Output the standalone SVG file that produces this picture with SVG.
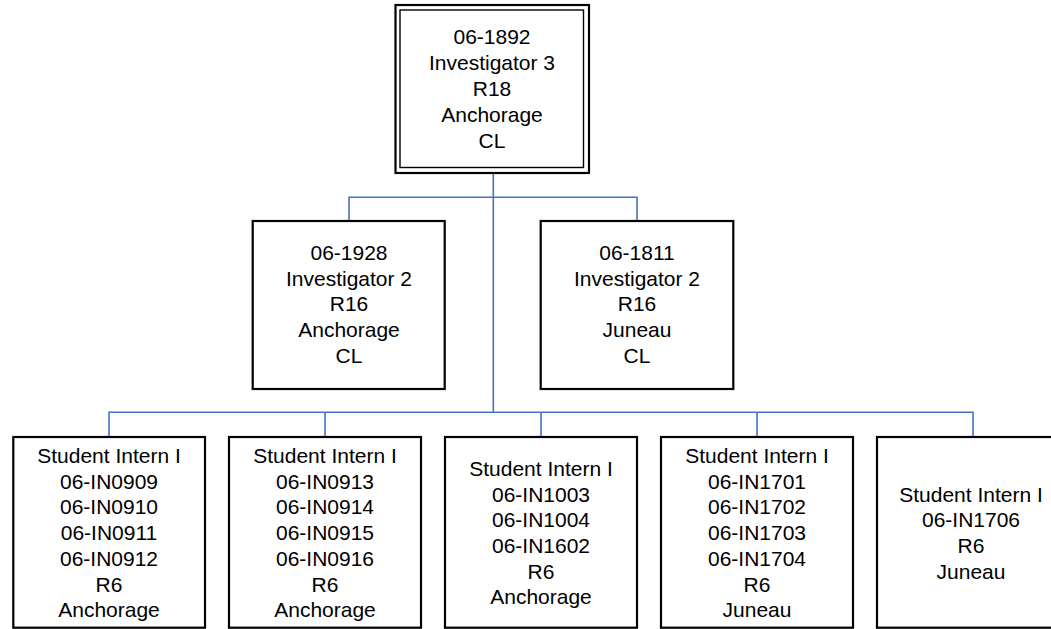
<svg xmlns="http://www.w3.org/2000/svg" width="1051" height="629" viewBox="0 0 1051 629">
<style>
.box{fill:#fff;stroke:#000;stroke-width:2.2}
.inner{fill:none;stroke:#000;stroke-width:1.4}
.lbl{font-family:"Liberation Sans",Arial,sans-serif;font-size:21px;fill:#000;text-anchor:middle}
.conn{fill:none;stroke:#4472C4;stroke-width:1.6}
</style>
<rect width="1051" height="629" fill="#fff"/>
<g id="connectors">
<path class="conn" d="M493.3 173V412.3"/>
<path class="conn" d="M349 221V197.3H637V221"/>
<path class="conn" d="M109 437V412.3H973V437"/>
<path class="conn" d="M325 412.3V437M541 412.3V437M757 412.3V437"/>
</g>
<g id="n1892">
<rect class="box" x="395.5" y="5" width="193.5" height="168" stroke-width="2.6"/>
<rect class="inner" x="400" y="10" width="183.5" height="157.5"/>
<text class="lbl" x="492" y="44"><tspan x="492">06-1892</tspan><tspan x="492" y="70">Investigator 3</tspan><tspan x="492" y="96">R18</tspan><tspan x="492" y="122">Anchorage</tspan><tspan x="492" y="148">CL</tspan></text>
</g>
<g id="n1928">
<rect class="box" x="252.7" y="221" width="192" height="168"/>
<text class="lbl" x="349" y="260"><tspan x="349">06-1928</tspan><tspan x="349" y="285.7">Investigator 2</tspan><tspan x="349" y="311.4">R16</tspan><tspan x="349" y="337.1">Anchorage</tspan><tspan x="349" y="362.8">CL</tspan></text>
</g>
<g id="n1811">
<rect class="box" x="540.7" y="221" width="192.6" height="168"/>
<text class="lbl" x="637" y="260"><tspan x="637">06-1811</tspan><tspan x="637" y="285.7">Investigator 2</tspan><tspan x="637" y="311.4">R16</tspan><tspan x="637" y="337.1">Juneau</tspan><tspan x="637" y="362.8">CL</tspan></text>
</g>
<g id="s1">
<rect class="box" x="13.3" y="437" width="191.7" height="190.7"/>
<text class="lbl" x="109" y="463"><tspan x="109">Student Intern I</tspan><tspan x="109" y="488.7">06-IN0909</tspan><tspan x="109" y="514.4">06-IN0910</tspan><tspan x="109" y="540.1">06-IN0911</tspan><tspan x="109" y="565.8">06-IN0912</tspan><tspan x="109" y="591.5">R6</tspan><tspan x="109" y="617.2">Anchorage</tspan></text>
</g>
<g id="s2">
<rect class="box" x="229" y="437" width="192" height="190.7"/>
<text class="lbl" x="325" y="463"><tspan x="325">Student Intern I</tspan><tspan x="325" y="488.7">06-IN0913</tspan><tspan x="325" y="514.4">06-IN0914</tspan><tspan x="325" y="540.1">06-IN0915</tspan><tspan x="325" y="565.8">06-IN0916</tspan><tspan x="325" y="591.5">R6</tspan><tspan x="325" y="617.2">Anchorage</tspan></text>
</g>
<g id="s3">
<rect class="box" x="445" y="437" width="192" height="190.7"/>
<text class="lbl" x="541" y="475.8"><tspan x="541">Student Intern I</tspan><tspan x="541" y="501.5">06-IN1003</tspan><tspan x="541" y="527.2">06-IN1004</tspan><tspan x="541" y="552.9">06-IN1602</tspan><tspan x="541" y="578.6">R6</tspan><tspan x="541" y="604.3">Anchorage</tspan></text>
</g>
<g id="s4">
<rect class="box" x="661" y="437" width="192" height="190.7"/>
<text class="lbl" x="757" y="463"><tspan x="757">Student Intern I</tspan><tspan x="757" y="488.7">06-IN1701</tspan><tspan x="757" y="514.4">06-IN1702</tspan><tspan x="757" y="540.1">06-IN1703</tspan><tspan x="757" y="565.8">06-IN1704</tspan><tspan x="757" y="591.5">R6</tspan><tspan x="757" y="617.2">Juneau</tspan></text>
</g>
<g id="s5">
<rect class="box" x="877" y="437" width="192" height="190.7"/>
<text class="lbl" x="971" y="501.5"><tspan x="971">Student Intern I</tspan><tspan x="971" y="527.2">06-IN1706</tspan><tspan x="971" y="552.9">R6</tspan><tspan x="971" y="578.6">Juneau</tspan></text>
</g>
</svg>
